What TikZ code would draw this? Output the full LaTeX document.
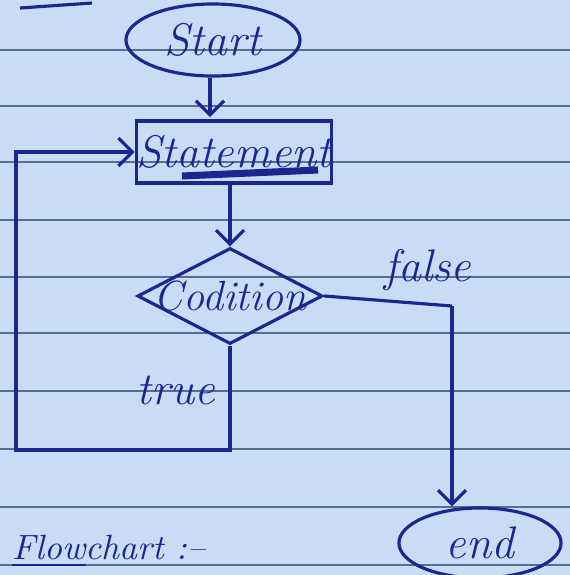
\documentclass[tikz,border=0pt]{standalone}
\usepackage{tikz}
\usetikzlibrary{arrows.meta, positioning, shapes.geometric}
\definecolor{paper}{HTML}{C9DCF5}
\definecolor{ruling}{HTML}{566F8E}
\definecolor{ink}{HTML}{1C2690}
\tikzset{
  term/.style={ellipse, draw=ink, line width=0.9pt, text=ink,
               font=\fontsize{13}{15}\selectfont\itshape, inner sep=0pt},
  proc/.style={rectangle, draw=ink, line width=0.9pt, text=ink,
               font=\fontsize{13}{15}\selectfont\itshape, inner sep=0pt,
               minimum width=1.85cm, minimum height=0.62cm},
  dec/.style={diamond, draw=ink, line width=0.9pt, inner sep=0pt,
              minimum width=1.85cm, minimum height=0.96cm},
  arr/.style={-{Straight Barb[length=4pt, width=8pt]}, line width=0.9pt, ink},
  lnk/.style={line width=0.9pt, ink},
  lbl/.style={font=\fontsize{13}{15}\selectfont\itshape, text=ink},
  rule/.style={ruling, line width=0.6pt},
}

\begin{document}
\begin{tikzpicture}[x=0.01cm, y=-0.01cm]
  %% ruled sheet
  \fill[paper] (0,0) rectangle (570,575);
  \useasboundingbox (0,0) rectangle (570,575);
  \clip (0,0) rectangle (570,575);
  \foreach \ry in {50,106,162,220,277,333,391,449,507,565}
    \draw[rule] (0,\ry) -- (570,\ry);
  \draw[lnk] (20,8) -- (92,3);
  %% blocks
  \node[term, minimum width=1.74cm, minimum height=0.72cm] (start) at (213,40) {Start};
  \node[proc]  (stmt) at (234,152) {Statement};
  \node[dec, label={[lbl, font=\fontsize{12}{14}\selectfont\itshape]center:Codition}]
    (cond) at (230,296) {};
  \node[term, minimum width=1.62cm, minimum height=0.70cm] (endn) at (480,543) {end};
  \node[lbl] (flbl) at (428,270) {false};
  \node[lbl] (tlbl) at (176,390) {true};
  \node[lbl, font=\fontsize{10}{12}\selectfont\itshape, anchor=west] (title)
    at (0,551) {\underline{Flow}chart :--};
  \draw[ink, line width=2pt] (182,176) -- (318,170);
  %% flow
  \coordinate (fcorner) at (452,306);
  \coordinate (loop) at (16,450);
  \draw[arr] (start.south -| 210,0) -- (210,117);
  \draw[arr] (stmt.south -| cond.north) -- (cond.north);
  \draw[lnk] (cond.east) -- (fcorner);
  \draw[arr] (fcorner) -- (fcorner |- endn.north);
  \draw[arr] (cond.south) -- (cond.south |- loop) -- (loop) |- (stmt.west);
\end{tikzpicture}
\end{document}
